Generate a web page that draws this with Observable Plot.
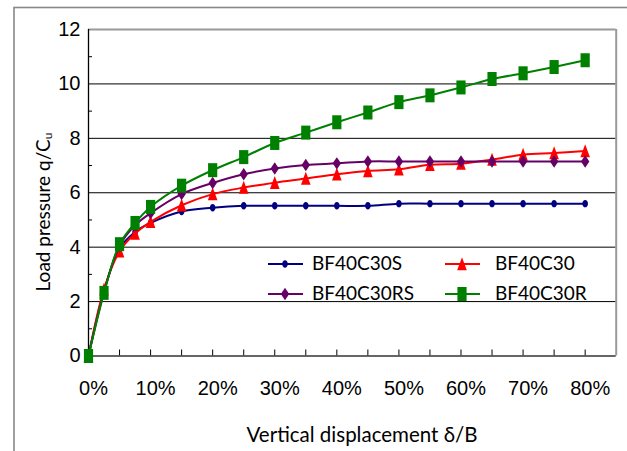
<!DOCTYPE html>
<html><head>
<meta charset="utf-8">
<script src="https://cdn.jsdelivr.net/npm/d3@7"></script>
<script src="https://cdn.jsdelivr.net/npm/@observablehq/plot@0.6"></script>
<style>body{margin:0;background:#fff} svg{display:block}</style>
</head><body><div id="chart"></div>
<script>
// ---- data ----
const displacement = [0,0.025,0.05,0.075,0.10,0.15,0.20,0.25,0.30,0.35,0.40,0.45,0.50,0.55,0.60,0.65,0.70,0.75,0.80];
const BF40C30S  = [0,2.40,3.95,4.56,4.89,5.31,5.45,5.52,5.52,5.52,5.52,5.52,5.60,5.60,5.60,5.60,5.60,5.60,5.60];
const BF40C30   = [0,2.45,3.85,4.50,4.93,5.54,5.95,6.19,6.37,6.52,6.68,6.80,6.86,7.03,7.07,7.22,7.40,7.46,7.53];
const BF40C30RS = [0,2.35,4.05,4.80,5.25,5.95,6.36,6.68,6.89,7.02,7.08,7.15,7.15,7.15,7.15,7.15,7.15,7.15,7.15];
const BF40C30R  = [0,2.32,4.11,4.89,5.48,6.26,6.83,7.31,7.83,8.21,8.59,8.95,9.33,9.58,9.87,10.18,10.39,10.62,10.87];
const seriesNames = ["BF40C30S","BF40C30","BF40C30RS","BF40C30R"];
const seriesValues = [BF40C30S, BF40C30, BF40C30RS, BF40C30R];
const seriesColors = ["#000080","#FF0000","#660066","#008000"];
const yTicks = [0,2,4,6,8,10,12];
const yMinorTicks = [1,3,5,7,9,11];
const xLabelTicks = [0,0.1,0.2,0.3,0.4,0.5,0.6,0.7,0.8];
const xMinorTicks = [0,0.05,0.1,0.15,0.2,0.25,0.3,0.35,0.4,0.45,0.5,0.55,0.6,0.65,0.7,0.75,0.8];
const xTitle = "Vertical displacement δ/B";
const yTitle = "Load pressure q/C";
const yTitleSub = "u";

// ---- marker symbols (slightly tall, as in the picture) ----
function ellipsePath(ctx, rx, ry){
  const k = 0.5523;
  ctx.moveTo(rx,0);
  ctx.bezierCurveTo(rx, ry*k, rx*k, ry, 0, ry);
  ctx.bezierCurveTo(-rx*k, ry, -rx, ry*k, -rx, 0);
  ctx.bezierCurveTo(-rx, -ry*k, -rx*k, -ry, 0, -ry);
  ctx.bezierCurveTo(rx*k, -ry, rx, -ry*k, rx, 0);
  ctx.closePath();
}
const symCircle = {draw(ctx){ ellipsePath(ctx, 2.8, 3.7); }};
const symTriangle = {draw(ctx){ ctx.moveTo(0,-6.8); ctx.lineTo(4.8,6.2); ctx.lineTo(-4.8,6.2); ctx.closePath(); }};
const symDiamond = {draw(ctx){ ctx.moveTo(0,-6.2); ctx.lineTo(4.2,0); ctx.lineTo(0,6.2); ctx.lineTo(-4.2,0); ctx.closePath(); }};
const symSquare = {draw(ctx){ ctx.rect(-4.6,-7,9.2,14); }};
const seriesSymbols = [symCircle, symTriangle, symDiamond, symSquare];

const rows = [];
seriesNames.forEach((name,i)=>{
  displacement.forEach((x,j)=>rows.push({series:name, x, y:seriesValues[i][j]}));
});

const W = 627, H = 451;
const tickFont = "'Liberation Sans', Arial, sans-serif";
const titleFont = "Lato, 'Open Sans', sans-serif";

const marks = [
  Plot.gridY([2,4,6,8,10], {stroke:"#000", strokeOpacity:1, strokeWidth:1}),
  Plot.ruleY([12], {stroke:"#999", strokeWidth:2}),
  Plot.ruleX([0.85], {stroke:"#999", strokeWidth:2}),
  Plot.axisY(yTicks, {label:null, tickSize:0, tickPadding:8, fontSize:20, fontFamily:tickFont, fill:"#000"}),
  Plot.axisY(yMinorTicks, {label:null, tickSize:-4, text:null, stroke:"#000"}),
  Plot.axisX(xMinorTicks, {label:null, tickSize:-6, text:null, stroke:"#000"}),
  Plot.axisX(xLabelTicks, {label:null, tickSize:0, tickPadding:25, dx:5, tickFormat:d=>Math.round(d*100)+"%", fontSize:20, fontFamily:tickFont, fill:"#000"}),
  Plot.ruleY([0], {stroke:"#333", strokeWidth:1.3}),
  Plot.ruleX([0], {stroke:"#000", strokeWidth:1.3}),
];
seriesNames.forEach((name,i)=>{
  const d = rows.filter(r=>r.series===name);
  marks.push(Plot.line(d, {x:"x", y:"y", stroke:seriesColors[i], strokeWidth:2, curve:"catmull-rom"}));
  marks.push(Plot.dot(d, {x:"x", y:"y", fill:seriesColors[i], stroke:"none", symbol:seriesSymbols[i], r:4}));
});

const chart = Plot.plot({
  width: W, height: H,
  marginLeft: 88, marginRight: 11.3, marginTop: 29, marginBottom: 95.5,
  x: {domain:[0,0.85], axis:null},
  y: {domain:[0,12], axis:null},
  style: {background:"#fff", overflow:"visible"},
  marks
});

const svg = d3.select(chart);
// outer chart border
svg.insert("rect", ":first-child").attr("x",14).attr("y",7.5).attr("width",700).attr("height",600)
  .attr("fill","none").attr("stroke","#888").attr("stroke-width",1.6);

// axis titles
svg.append("text").attr("x",362).attr("y",437).attr("text-anchor","middle").attr("dominant-baseline","middle")
  .attr("font-family",titleFont).attr("font-size",20.5).attr("fill","#000").text(xTitle);
const yt = svg.append("text").attr("transform","translate(45,212) rotate(-90)").attr("text-anchor","middle")
  .attr("dominant-baseline","middle").attr("font-family",titleFont).attr("font-size",19).attr("fill","#000");
yt.append("tspan").text(yTitle);
yt.append("tspan").attr("font-size",12).attr("dy",4).text(yTitleSub);

// legend
const legendPos = [[268,264],[445,264],[268,294],[445,294]];
seriesNames.forEach((name,i)=>{
  const [lx,ly] = legendPos[i];
  const g = svg.append("g");
  g.append("line").attr("x1",lx).attr("x2",lx+35).attr("y1",ly).attr("y2",ly)
    .attr("stroke",seriesColors[i]).attr("stroke-width",2);
  g.append("path").attr("transform",`translate(${lx+17},${ly})`)
    .attr("d", d3.symbol(seriesSymbols[i])()).attr("fill",seriesColors[i]);
  g.append("text").attr("x",lx+(i%2? 50:44)).attr("y",ly+1).attr("text-anchor","start").attr("dominant-baseline","middle")
    .attr("font-family",titleFont).attr("font-size",19).attr("fill","#000").text(name);
});

document.getElementById("chart").appendChild(chart);
</script>
</body></html>
